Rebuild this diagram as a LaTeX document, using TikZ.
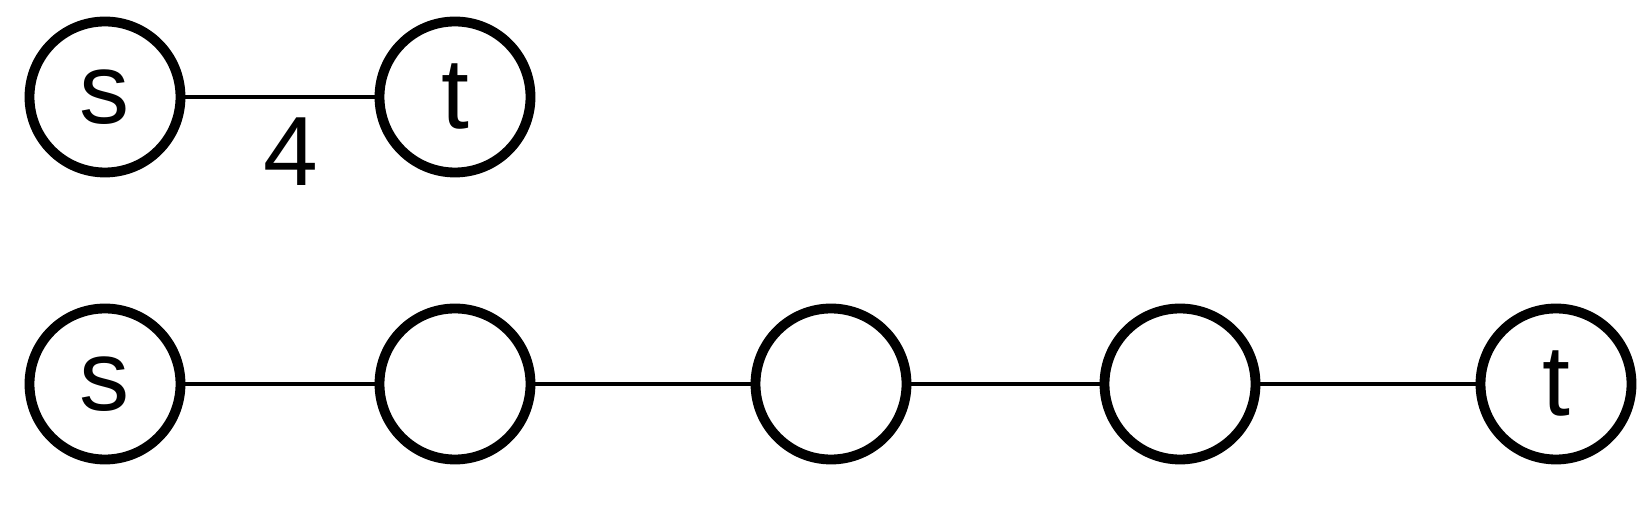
\documentclass[tikz,border=0pt]{standalone}
\usepackage{fontspec}
\setmainfont{Liberation Sans}
\usetikzlibrary{positioning}

\begin{document}
\begin{tikzpicture}[vtx/.style={circle, draw, line width=5.6pt, minimum size=3.02cm, inner sep=0pt, font=\fontsize{57}{60}\selectfont},
    link/.style={line width=2.4pt}]
    \useasboundingbox (0,0) rectangle (33.02,10.22);
    % Top graph
    \node[vtx] (s1) at (2.1,8.28) {\raisebox{-2pt}{s}};
    \node[vtx] (t1) at (9.1,8.28) {\raisebox{-2pt}{t}};
    \draw[link] (s1) -- node[pos=0.56, below=0.38cm, inner sep=0pt, font=\fontsize{56}{60}\selectfont] (w) {4} (t1);

    % Bottom path
    \node[vtx] (s2) at (2.1,2.54) {\raisebox{-2pt}{s}};
    \node[vtx] (a) at (9.1,2.54) {};
    \node[vtx] (b) at (16.62,2.54) {};
    \node[vtx] (c) at (23.6,2.54) {};
    \node[vtx] (t2) at (31.12,2.54) {\raisebox{-2pt}{t}};
    \draw[link] (s2) -- (a);
    \draw[link] (a) -- (b);
    \draw[link] (b) -- (c);
    \draw[link] (c) -- (t2);
\end{tikzpicture}
\end{document}
